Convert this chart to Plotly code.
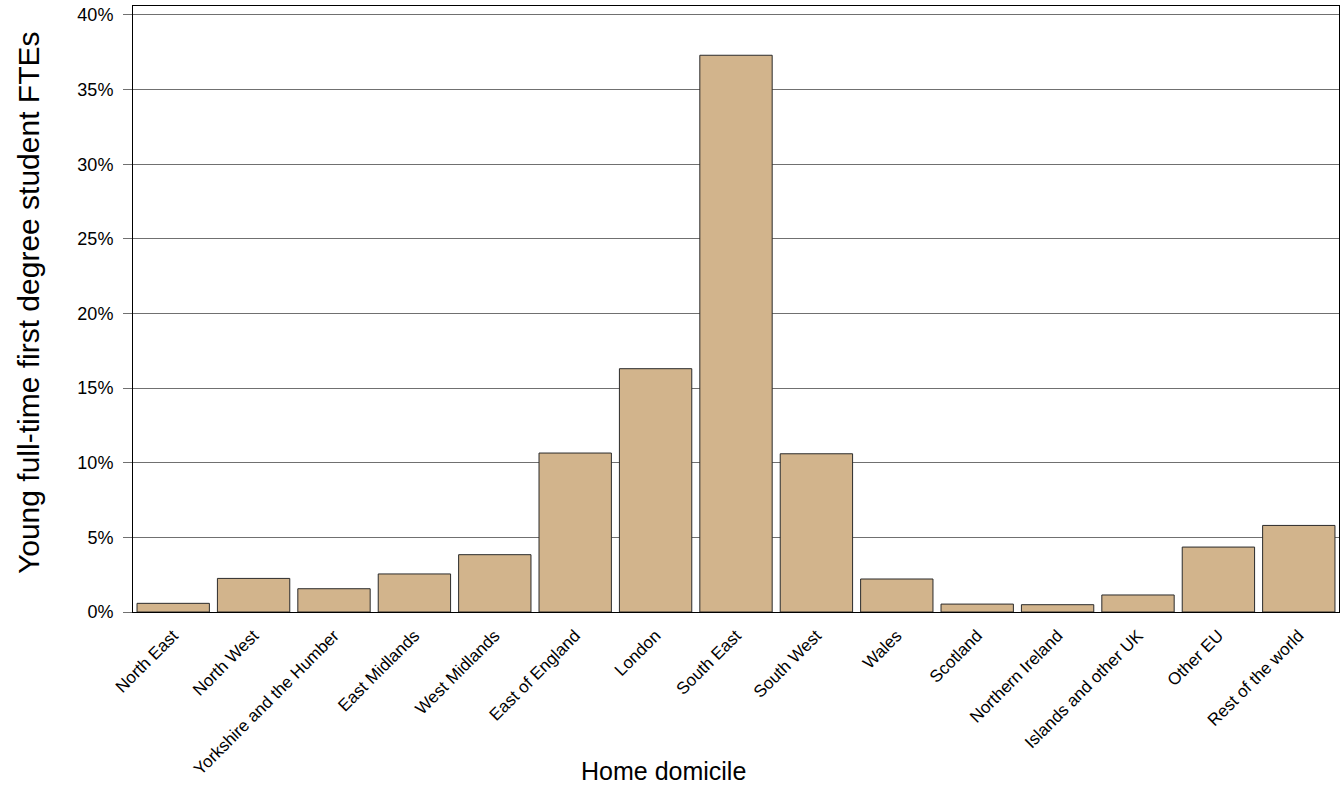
import plotly.graph_objects as go

categories = ["North East", "North West", "Yorkshire and the Humber", "East Midlands",
              "West Midlands", "East of England", "London", "South East", "South West",
              "Wales", "Scotland", "Northern Ireland", "Islands and other UK",
              "Other EU", "Rest of the world"]
values = [0.58, 2.25, 1.56, 2.55, 3.84, 10.65, 16.3, 37.3, 10.6,
          2.21, 0.53, 0.49, 1.14, 4.35, 5.8]
tick_vals = [0, 5, 10, 15, 20, 25, 30, 35, 40]
tick_text = ["0%", "5%", "10%", "15%", "20%", "25%", "30%", "35%", "40%"]

FONT = "Liberation Sans, Arial, sans-serif"

fig = go.Figure(go.Bar(
    x=categories, y=values,
    marker=dict(color="#D2B48C", line=dict(color="#2b2b2b", width=1)),
    hoverinfo="skip",
))

fig.update_layout(
    width=1341, height=801,
    margin=dict(l=133, r=2, t=6, b=189, autoexpand=False),
    plot_bgcolor="white", paper_bgcolor="white",
    bargap=0.1,
    showlegend=False,
    font=dict(family=FONT, color="black", size=17),
    xaxis=dict(
        tickangle=-45, tickfont=dict(size=17, family=FONT),
        showline=True, linecolor="black", linewidth=1, mirror=True,
        showgrid=False, ticks="", automargin=False, ticklabelstandoff=6,
    ),
    yaxis=dict(
        range=[0, 40.6], tickvals=tick_vals, ticktext=tick_text,
        tickfont=dict(size=18, family=FONT),
        showgrid=True, gridcolor="#707070", gridwidth=1,
        showline=True, linecolor="black", linewidth=1, mirror=True,
        ticks="outside", ticklen=9, tickcolor="#707070",
        ticklabelstandoff=6,
        zeroline=False, automargin=False,
    ),
    annotations=[
        dict(text="Home domicile", xref="paper", yref="paper", x=0.4395, y=0,
             yshift=-159, showarrow=False, font=dict(size=25, family=FONT),
             xanchor="center", yanchor="middle"),
        dict(text="Young full-time first degree student FTEs", xref="paper", yref="paper",
             x=0, xshift=-105, y=0.5, yshift=6, textangle=-90, showarrow=False,
             font=dict(size=30, family=FONT), xanchor="center", yanchor="middle"),
    ],
)

fig.write_html("out.html", config={"displayModeBar": False},
               post_script="document.body.style.margin='0';document.body.style.overflow='hidden';")
